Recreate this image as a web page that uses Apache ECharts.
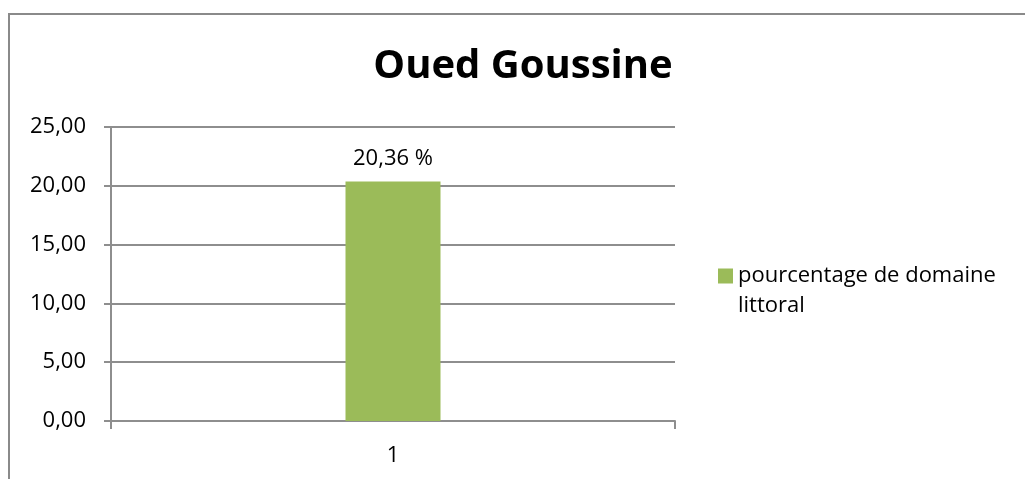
<!DOCTYPE html>
<html>
<head>
<meta charset="utf-8">
<script src="https://cdn.jsdelivr.net/npm/echarts@6/dist/echarts.min.js"></script>
<style>
  html, body { margin: 0; padding: 0; background: #fff; }
  #chart { width: 1025px; height: 479px; }
</style>
</head>
<body>
<div id="chart"></div>
<script>
// Chart content
const titleText = 'Oued Goussine';
const seriesName = 'pourcentage de domaine littoral';
const categories = ['1'];
const values = [20.36];
const yMin = 0;
const yMax = 25;
const yStep = 5;

const FONT = '"Open Sans", "Noto Sans", sans-serif';
const GRID_COLOR = '#8e8e8e';

// French decimal formatting: 20.36 -> "20,36"
function frNum(v, digits) {
  return Number(v).toFixed(digits).replace('.', ',');
}

const chart = echarts.init(document.getElementById('chart'), null, { renderer: 'canvas' });

chart.setOption({
  backgroundColor: '#ffffff',
  animation: false,
  title: {
    text: titleText,
    left: 518,
    textAlign: 'center',
    top: 42,
    textStyle: { fontFamily: FONT, fontSize: 40, fontWeight: 'bold', color: '#000' }
  },
  graphic: [{
    type: 'rect',
    shape: { x: 9, y: 14, width: 1040, height: 520 },
    style: { fill: 'none', stroke: '#8a8a8a', lineWidth: 2 },
    silent: true
  }],
  legend: {
    left: 718,
    top: 231,
    padding: 0,
    icon: 'rect',
    itemWidth: 15,
    itemHeight: 15,
    data: [seriesName],
    // leading blank line keeps the marker level with the first line of text
    formatter: name => '\n' + name,
    textStyle: {
      fontFamily: FONT,
      fontSize: 22,
      color: '#000',
      width: 285,
      overflow: 'break',
      lineHeight: 30
    }
  },
  grid: { left: 111, right: 350, top: 127, bottom: 58 },
  xAxis: {
    type: 'category',
    data: categories,
    boundaryGap: true,
    axisLine: { show: true, lineStyle: { color: GRID_COLOR, width: 2 } },
    axisTick: { show: true, length: 8, alignWithLabel: false, lineStyle: { color: GRID_COLOR, width: 2 } },
    axisLabel: { fontFamily: FONT, fontSize: 22, color: '#000', margin: 24 }
  },
  yAxis: {
    type: 'value',
    min: yMin,
    max: yMax,
    interval: yStep,
    axisLine: { show: true, lineStyle: { color: GRID_COLOR, width: 2 } },
    axisTick: { show: true, length: 7, lineStyle: { color: GRID_COLOR, width: 2 } },
    splitLine: { show: true, lineStyle: { color: GRID_COLOR, width: 2 } },
    axisLabel: {
      fontFamily: FONT, fontSize: 22, color: '#000', margin: 25,
      formatter: v => frNum(v, 2)
    }
  },
  series: [{
    name: seriesName,
    type: 'bar',
    data: values,
    barWidth: 95,
    itemStyle: { color: '#9BBB59' },
    label: {
      show: true,
      position: 'top',
      distance: 12,
      fontFamily: FONT,
      fontSize: 22,
      color: '#000',
      formatter: p => frNum(p.value, 2) + ' %'
    }
  }]
});
</script>
</body>
</html>
